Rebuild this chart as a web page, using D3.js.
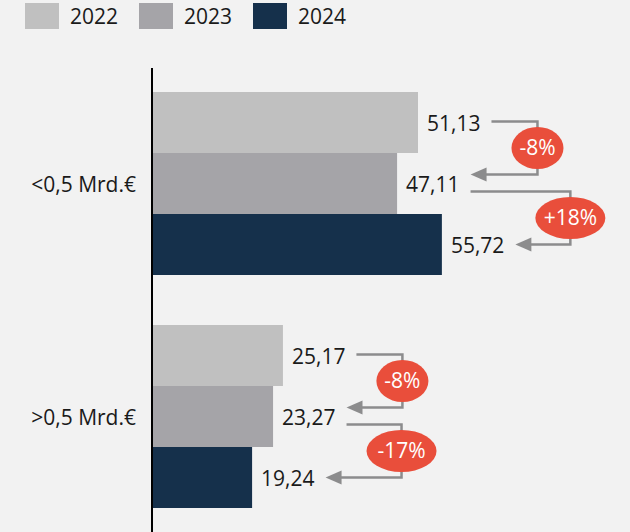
<!DOCTYPE html>
<html>
<head>
<meta charset="utf-8">
<script src="https://cdn.jsdelivr.net/npm/d3@7"></script>
<style>
  body { margin: 0; background: #f2f2f2; }
  svg { display: block; font-family: "Open Sans", sans-serif; }
  .label { font-size: 21px; fill: #1a1a1a; }
</style>
</head>
<body>
<svg class="chart" width="630" height="532"></svg>
<script>
var categories = ["<0,5 Mrd.€", ">0,5 Mrd.€"];
var years = ["2022", "2023", "2024"];
var values2022 = [51.13, 25.17];
var values2023 = [47.11, 23.27];
var values2024 = [55.72, 19.24];
var colors = ["#c0c0c0", "#a5a4a8", "#15304b"];

var series = [values2022, values2023, values2024];
var fmt = function(v) { return v.toFixed(2).replace(".", ","); };

var svg = d3.select(".chart");

var margin = {top: 92, bottom: 24, left: 152},
    width = 630, height = 532;

var x = d3.scaleLinear().domain([0, 51.13]).range([margin.left, 418]);
var y0 = d3.scaleBand().domain(categories)
    .range([margin.top, height - margin.bottom])
    .paddingInner(0.2146).paddingOuter(0);
var y1 = d3.scaleBand().domain(years).range([0, y0.bandwidth()]);

// legend
var legend = svg.append("g").selectAll("g")
    .data(years)
  .enter().append("g")
    .attr("transform", function(d, i) { return "translate(" + (25 + i * 114) + ",3)"; });
legend.append("rect")
    .attr("width", 34).attr("height", 26)
    .attr("fill", function(d, i) { return colors[i]; });
legend.append("text")
    .attr("class", "label")
    .attr("x", 45).attr("y", 14).attr("dy", "0.35em")
    .text(function(d) { return d; });

var groups = svg.append("g").selectAll("g")
    .data(categories)
  .enter().append("g")
    .attr("transform", function(d) { return "translate(0," + y0(d) + ")"; });

groups.selectAll("rect")
    .data(function(d, ci) { return years.map(function(yr, i) { return {year: yr, v: series[i][ci], i: i}; }); })
  .enter().append("rect")
    .attr("x", x(0))
    .attr("y", function(d) { return y1(d.year); })
    .attr("width", function(d) { return x(d.v) - x(0); })
    .attr("height", y1.bandwidth())
    .attr("fill", function(d) { return colors[d.i]; });

groups.selectAll("text.val")
    .data(function(d, ci) { return years.map(function(yr, i) { return {year: yr, v: series[i][ci]}; }); })
  .enter().append("text")
    .attr("class", "label val")
    .attr("x", function(d) { return x(d.v) + 9; })
    .attr("y", function(d) { return y1(d.year) + y1.bandwidth() / 2 + 1; })
    .attr("dy", "0.35em")
    .text(function(d) { return fmt(d.v); });

groups.append("text")
    .attr("class", "label")
    .attr("x", 136)
    .attr("y", y0.bandwidth() / 2 + 1)
    .attr("dy", "0.35em")
    .attr("text-anchor", "end")
    .text(function(d) { return d; });

// axis line
svg.append("line")
    .attr("x1", x(0)).attr("x2", x(0))
    .attr("y1", 68).attr("y2", height)
    .attr("stroke", "#000").attr("stroke-width", 2);

// change arrows
groups.each(function(cat, ci) {
  var g = d3.select(this);
  var labelW = [];
  g.selectAll("text.val").each(function() { labelW.push(this.getComputedTextLength()); });
  for (var i = 0; i < 2; i++) {
    var a = series[i][ci], b = series[i + 1][ci];
    var pct = Math.round((b / a - 1) * 100);
    var txt = (pct > 0 ? "+" : "") + pct + "%";
    var sx = x(a) + 9 + labelW[i] + 11;
    var tx = x(b) + 9 + labelW[i + 1] + 11;
    var sy = y1(years[i]) + y1.bandwidth() / 2 + (i === 0 ? -1 : 8);
    var ty = y1(years[i + 1]) + y1.bandwidth() / 2 + (i === 0 ? -9 : 0);
    var rx = txt.length > 3 ? 35 : 26;
    var cx = Math.max(sx, tx) + rx + 20;
    g.append("path")
        .attr("d", "M" + sx + "," + sy + "H" + cx + "V" + ty + "H" + (tx + 12))
        .attr("fill", "none")
        .attr("stroke", "#8c8c8d")
        .attr("stroke-width", 2.5);
    g.append("path")
        .attr("d", "M" + tx + "," + ty + "L" + (tx + 16) + "," + (ty - 7) + "L" + (tx + 16) + "," + (ty + 7) + "Z")
        .attr("fill", "#8c8c8d");
    var cy = (sy + ty) / 2;
    g.append("ellipse")
        .attr("cx", cx).attr("cy", cy)
        .attr("rx", rx).attr("ry", 21)
        .attr("fill", "#e94e3b");
    g.append("text")
        .attr("class", "label")
        .attr("x", cx).attr("y", cy).attr("dy", "0.35em")
        .attr("text-anchor", "middle")
        .style("fill", "#fff")
        .text(txt);
  }
});
</script>
</body>
</html>
